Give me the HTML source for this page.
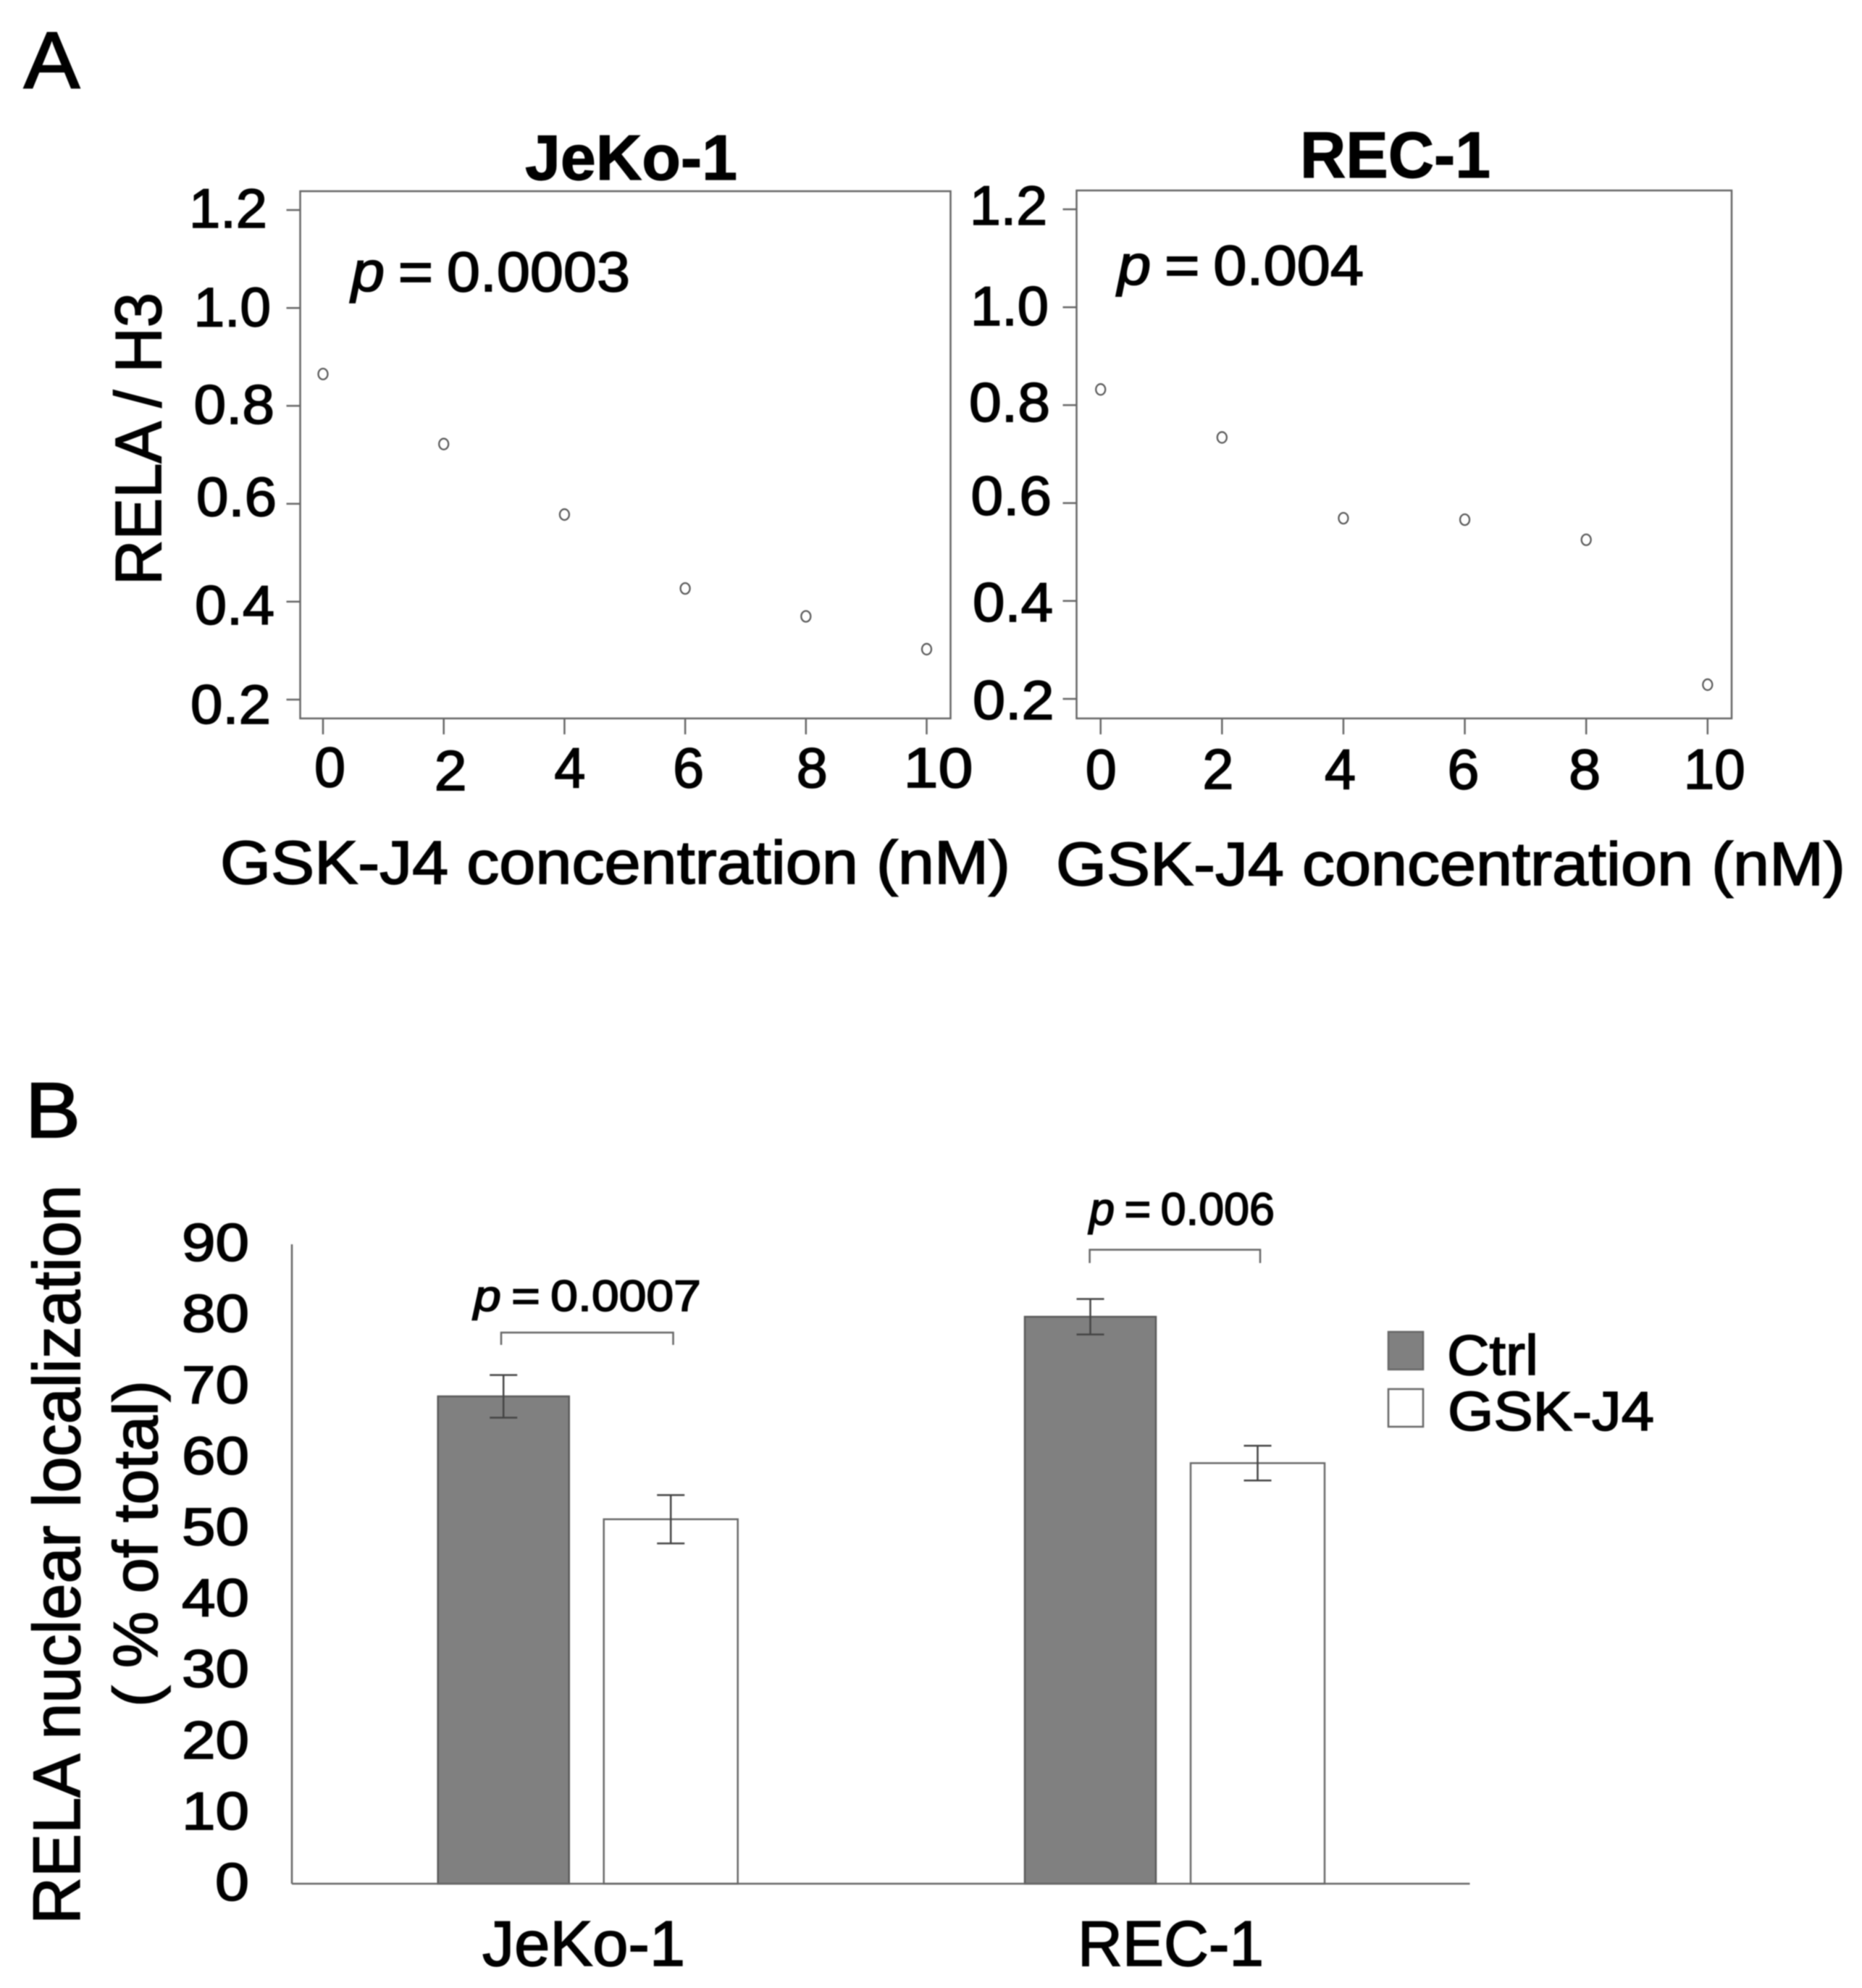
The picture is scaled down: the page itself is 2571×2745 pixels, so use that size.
<!DOCTYPE html>
<html lang="en">
<head>
<meta charset="utf-8">
<title>RELA / H3 and RELA nuclear localization</title>
<style>
html,body{margin:0;padding:0;background:#fff;}
#figure{display:block;width:2571px;height:2745px;filter:blur(0.9px);}
text{font-family:"Liberation Sans",Arial,sans-serif;fill:#000;stroke:#000;stroke-width:1.7;}
.panel-letter{stroke-width:2.2;}
.title{stroke-width:1.2;}
.pval{word-spacing:-4px;}
</style>
</head>
<body>
<svg id="figure" xmlns="http://www.w3.org/2000/svg" width="2571" height="2745" viewBox="0 0 2571 2745">
  <rect x="0" y="0" width="2571" height="2745" fill="#fff"/>

  <text class="panel-letter" x="33" y="121" font-size="110" textLength="77" lengthAdjust="spacingAndGlyphs">A</text>
  <text class="panel-letter" x="35" y="1570" font-size="108" textLength="76" lengthAdjust="spacingAndGlyphs">B</text>

  <g id="scatter-jeko"></g>
  <g id="scatter-rec"></g>

  <text class="title" x="725" y="248" font-size="88" font-weight="bold" textLength="293" lengthAdjust="spacingAndGlyphs">JeKo-1</text>
  <text class="title" x="1795" y="245" font-size="90" font-weight="bold" textLength="263" lengthAdjust="spacingAndGlyphs">REC-1</text>

  <text transform="translate(222 808) rotate(-90)" font-size="90" textLength="404" lengthAdjust="spacingAndGlyphs">RELA / H3</text>

  <text x="304" y="1220" font-size="84" textLength="1091" lengthAdjust="spacingAndGlyphs">GSK-J4 concentration (nM)</text>
  <text x="1458" y="1222" font-size="84" textLength="1090" lengthAdjust="spacingAndGlyphs">GSK-J4 concentration (nM)</text>

  <text class="pval" x="485" y="402" font-size="78" textLength="385" lengthAdjust="spacingAndGlyphs"><tspan font-style="italic">p</tspan> = 0.0003</text>
  <text class="pval" x="1543" y="393" font-size="78" textLength="340" lengthAdjust="spacingAndGlyphs"><tspan font-style="italic">p</tspan> = 0.004</text>

  <g id="bar-chart"></g>

  <text transform="translate(110 2657) rotate(-90)" font-size="92" textLength="1021" lengthAdjust="spacingAndGlyphs">RELA nuclear localization</text>
  <text transform="translate(217 2357) rotate(-90)" font-size="86" textLength="451" lengthAdjust="spacingAndGlyphs">( % of total)</text>

  <text class="pval" x="654" y="1810" font-size="60" textLength="314" lengthAdjust="spacingAndGlyphs"><tspan font-style="italic">p</tspan> = 0.0007</text>
  <path d="M692 1857V1840H929.5V1857" fill="none" stroke="#666" stroke-width="2.5"/>
  <text class="pval" x="1504" y="1691" font-size="63" textLength="256" lengthAdjust="spacingAndGlyphs"><tspan font-style="italic">p</tspan> = 0.006</text>
  <path d="M1504.6 1744V1725.6H1740V1744" fill="none" stroke="#666" stroke-width="2.5"/>

  <rect x="1917" y="1839" width="48" height="52" fill="#808080" stroke="#666" stroke-width="2.5"/>
  <text x="1998" y="1898" font-size="78" textLength="126" lengthAdjust="spacingAndGlyphs">Ctrl</text>
  <rect x="1917" y="1918" width="48" height="52" fill="#fff" stroke="#666" stroke-width="2.5"/>
  <text x="1999" y="1975" font-size="76" textLength="285" lengthAdjust="spacingAndGlyphs">GSK-J4</text>
</svg>

<script>
/* Panel A data */
const doses = [0, 2, 4, 6, 8, 10];
const jekoRatios = [0.865, 0.722, 0.578, 0.427, 0.370, 0.303];
const recRatios = [0.832, 0.734, 0.569, 0.566, 0.525, 0.229];
const ratioTicks = [0.2, 0.4, 0.6, 0.8, 1.0, 1.2];
const ratioTickLabels = ['0.2', '0.4', '0.6', '0.8', '1.0', '1.2'];
const doseTickLabels = ['0', '2', '4', '6', '8', '10'];

/* Panel B data */
const barCategories = ['JeKo-1', 'REC-1'];
const ctrlMeans = [68.6, 79.8];
const gskMeans = [51.3, 59.2];
const ctrlErrors = [3.0, 2.5];
const gskErrors = [3.4, 2.45];
const percentTicks = [0, 10, 20, 30, 40, 50, 60, 70, 80, 90];
const percentTickLabels = ['0', '10', '20', '30', '40', '50', '60', '70', '80', '90'];

const NS = 'http://www.w3.org/2000/svg';
function make(parent, tag, attrs, content) {
  const el = document.createElementNS(NS, tag);
  for (const k in attrs) el.setAttribute(k, attrs[k]);
  if (content !== undefined) el.textContent = content;
  parent.appendChild(el);
  return el;
}

function drawScatter(parent, layout, values) {
  const xScale = d => layout.x0 + (d - 0) * (layout.x10 - layout.x0) / 10;
  const yScale = v => layout.y02 - (v - 0.2) * 676;

  const frame = make(parent, 'rect', {x: layout.left, y: layout.top, width: layout.right - layout.left, height: layout.bottom - layout.top, fill: 'none', stroke: '#666', 'stroke-width': 2.5});
  
  

  ratioTicks.forEach((t, i) => {
    const y = yScale(t);
    const tick = make(parent, 'line', {x1: layout.left - 19, x2: layout.left, y1: y, y2: y, stroke: '#666', 'stroke-width': 2.5});
    
    
    const box = layout.yLabels[i];
    const label = make(parent, 'text', {x: box[0], y: y + box[2], 'font-size': 76, textLength: box[1], lengthAdjust: 'spacingAndGlyphs'}, ratioTickLabels[i]);
    
    
  });

  doses.forEach((d, i) => {
    const x = xScale(d);
    const tick = make(parent, 'line', {x1: x, x2: x, y1: layout.bottom, y2: layout.bottom + 22, stroke: '#666', 'stroke-width': 2.5});
    
    
    const box = layout.xLabels[i];
    const label = make(parent, 'text', {x: x + box[0], y: box[2], 'font-size': 78, textLength: box[1], lengthAdjust: 'spacingAndGlyphs'}, doseTickLabels[i]);
    
    
  });

  values.forEach((v, i) => {
    const point = make(parent, 'ellipse', {cx: xScale(doses[i]), cy: yScale(v), rx: 6.5, ry: 7.5, fill: 'none', stroke: '#555', 'stroke-width': 2.2});
    
    
  });
}

drawScatter(document.getElementById('scatter-jeko'), {
  left: 414.5, right: 1312.5, top: 264, bottom: 992, x0: 446, x10: 1279.5, y02: 966,
  yLabels: [[263, 111, 33], [269, 110, 31], [271, 111, 17], [267.5, 111.5, 24.6], [267.5, 106.5, 25.4], [261, 108, 24]],
  xLabels: [[-12, 43, 1086], [-13, 45, 1091], [-14, 43, 1087], [-17, 43, 1087], [-13, 43, 1087], [-32, 96, 1087]]
}, jekoRatios);

drawScatter(document.getElementById('scatter-rec'), {
  left: 1486.5, right: 2391, top: 263, bottom: 992, x0: 1519.7, x10: 2357.8, y02: 965,
  yLabels: [[1343, 112.6, 28], [1343, 111, 28.2], [1340.5, 111.5, 16.4], [1338, 112, 22.6], [1340, 108, 24.8], [1339, 107, 21]],
  xLabels: [[-21, 43, 1089], [-27, 43, 1089], [-26, 43, 1089], [-24, 44, 1089], [-24, 44, 1089], [-33, 85, 1089]]
}, recRatios);

function drawBars(parent) {
  const baseline = 2601;
  const yScale = v => baseline - 9.81 * v;
  const groupX = i => 604.7 + i * 810.3;
  const barStroke = '#5a5a5a';

  const yAxis = make(parent, 'line', {x1: 403, x2: 403, y1: yScale(90), y2: baseline, stroke: '#666', 'stroke-width': 2.5});
  
  

  percentTicks.forEach((t, i) => {
    const wide = percentTickLabels[i].length > 1;
    const label = make(parent, 'text', {x: wide ? 251 : 297, y: yScale(t) + 23, 'font-size': 73, textLength: wide ? 93 : 47, lengthAdjust: 'spacingAndGlyphs'}, percentTickLabels[i]);
    
    
  });

  barCategories.forEach((cat, i) => {
    const left = groupX(i);

    const ctrlBar = make(parent, 'rect', {x: left, y: yScale(ctrlMeans[i]), width: 181, height: baseline - yScale(ctrlMeans[i]), fill: '#808080', stroke: barStroke, 'stroke-width': 2.5});
    
    

    const gskBar = make(parent, 'rect', {x: left + 229, y: yScale(gskMeans[i]), width: 185, height: baseline - yScale(gskMeans[i]), fill: '#fff', stroke: '#6a6a6a', 'stroke-width': 2.5});
    
    

    [[left + 90.5, ctrlMeans[i], ctrlErrors[i]], [left + 321.5, gskMeans[i], gskErrors[i]]].forEach(spec => {
      const cx = spec[0];
      const hi = yScale(spec[1] + spec[2]);
      const lo = yScale(spec[1] - spec[2]);
      const whisker = make(parent, 'path', {d: 'M' + (cx - 19) + ' ' + hi + 'H' + (cx + 19) + 'M' + cx + ' ' + hi + 'V' + lo + 'M' + (cx - 19) + ' ' + lo + 'H' + (cx + 19), fill: 'none', stroke: '#444', 'stroke-width': 2.5});
      
      
    });

    const catLabel = make(parent, 'text', {x: i === 0 ? 666 : 1488, y: 2714, 'font-size': 88, textLength: i === 0 ? 280 : 257, lengthAdjust: 'spacingAndGlyphs'}, cat);
    
    
  });

  const xAxis = make(parent, 'line', {x1: 403, x2: 2029.5, y1: baseline, y2: baseline, stroke: '#666', 'stroke-width': 2.5});
  
  
}

drawBars(document.getElementById('bar-chart'));
</script>
</body>
</html>
